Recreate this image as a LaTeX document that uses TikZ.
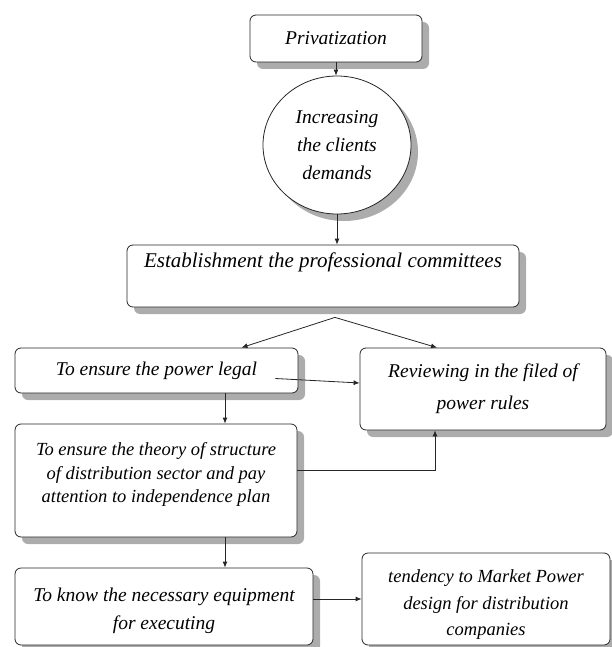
\documentclass[tikz,border=0pt]{standalone}
\usepackage{fontspec}
\setmainfont{Liberation Serif}
\usetikzlibrary{shapes.geometric, arrows.meta, positioning, calc, shadows}

\begin{document}
\begin{tikzpicture}[x=1pt, y=-1pt,
  % Node styles
  box/.style={draw=black!85, line width=0.8pt, rounded corners=6pt, fill=white,
              align=center, inner sep=0pt,
              font=\itshape\fontsize{19.5}{27}\selectfont,
              drop shadow={shadow xshift=7pt, shadow yshift=-7pt, fill=gray!65, opacity=1}},
  circ/.style={ellipse, draw=black!85, line width=0.8pt, fill=white,
               align=center, inner sep=0pt,
               font=\itshape\fontsize{19.5}{28}\selectfont,
               drop shadow={shadow xshift=7pt, shadow yshift=-7pt, fill=gray!65, opacity=1}},
  % Arrow styles
  arr/.style={-{Latex[length=6pt, width=5pt]}, line width=0.8pt, draw=black!85},
]
  \useasboundingbox (0,0) rectangle (612,647);

  % ── Top: privatization and demands ──
  \node[box, minimum width=172pt, minimum height=47pt] (priv) at (336,38.5) {Privatization};
  \node[circ, minimum width=148pt, minimum height=138pt] (demand) at (337,145)
    {Increasing\\the clients\\demands};

  % ── Committees (text sits high in the box) ──
  \node[box, minimum width=392pt, minimum height=62pt] (estab) at (323,276) {};
  \node[font=\itshape\fontsize{21}{25}\selectfont] (estabtxt) at (323,262)
    {Establishment the professional committees};

  % ── Left column ──
  \node[box, minimum width=283pt, minimum height=45pt] (legal) at (156.5,370.5) {To ensure the power legal};
  \node[box, minimum width=282pt, minimum height=113pt,
        font=\itshape\fontsize{18.5}{23.5}\selectfont] (theory) at (156,480.5) {};
  \node[font=\itshape\fontsize{18.5}{23.5}\selectfont, align=center] (theorytxt) at (156,474.5)
    {To ensure the theory of structure\\of distribution sector and pay\\attention to independence plan};
  \node[box, minimum width=298pt, minimum height=77pt,
        font=\itshape\fontsize{19.5}{28}\selectfont] (know) at (164,606.5) {};
  \node[font=\itshape\fontsize{19.5}{28}\selectfont, align=center] (knowtxt) at (164,611)
    {To know the necessary equipment\\for executing};

  % ── Right column ──
  \node[box, minimum width=246pt, minimum height=82pt,
        font=\itshape\fontsize{19.5}{32}\selectfont] (review) at (483,389)
    {Reviewing in the filed of\\power rules};
  \node[box, minimum width=248pt, minimum height=92pt] (tend) at (486,599) {};
  \node[font=\itshape\fontsize{18.5}{26.5}\selectfont, align=center] (tendtxt) at (486,605)
    {tendency to Market Power\\design for distribution\\companies};

  % ── Arrows: top to bottom ──
  \draw[arr] (priv.south) -- (priv.south |- demand.north);
  \draw[arr] (demand.south) -- (demand.south |- estab.north);

  % ── Split below committees ──
  \coordinate (split) at ([xshift=12pt, yshift=-10pt]estab.south);
  \draw[arr] (split) -- ([xshift=85pt]legal.north);
  \draw[arr] (split) -- ([xshift=-46pt]review.north);

  % ── Left column flow ──
  \coordinate (legalout) at ([xshift=68.5pt]legal.south);
  \coordinate (theoryout) at ([xshift=69pt]theory.south);
  \draw[arr] (legalout) -- (legalout |- theory.north);
  \draw[arr] (theoryout) -- (theoryout |- know.north);

  % ── Cross arrows to the right ──
  \draw[arr] ([xshift=-23pt, yshift=-8pt]legal.east) -- ([yshift=6pt]review.west);
  \coordinate (reviewin) at ([xshift=-48pt]review.south);
  \draw[arr] ([yshift=10.5pt]theory.east) -| (reviewin);
  \draw[arr] (know.east |- tend.west) -- (tend.west);

\end{tikzpicture}
\end{document}
